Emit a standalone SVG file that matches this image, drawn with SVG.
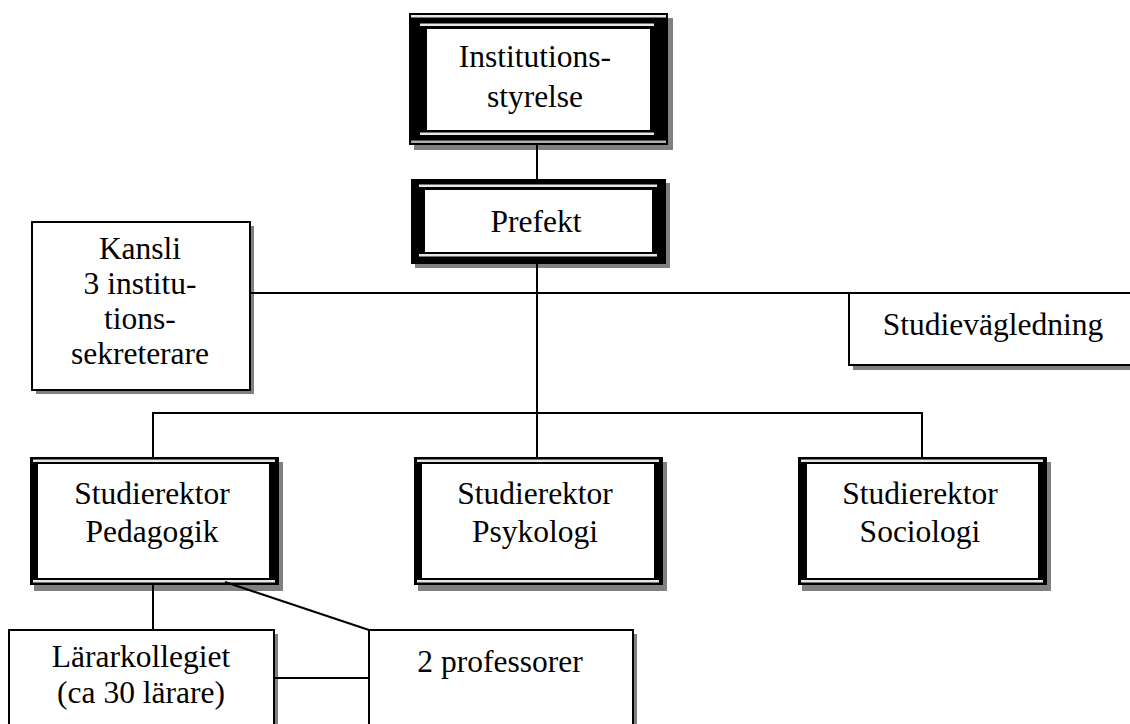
<svg xmlns="http://www.w3.org/2000/svg" width="1130" height="724" viewBox="0 0 1130 724">
<style>
.t{font-family:"Liberation Serif","Times New Roman",serif;font-size:31.5px;fill:#000;text-anchor:middle}
.blk{fill:#000}
.wht{fill:#fff}
.shd{fill:#808080}
.str{fill:#e6e6e6}
.thin{fill:#fff;stroke:#000;stroke-width:2}
.ln{stroke:#000;stroke-width:2;fill:none}
</style>
<rect width="1130" height="724" fill="#fff"/>
<g id="institutionsstyrelse">
<rect class="shd" x="414" y="18" width="259" height="132"/>
<rect class="blk" x="409" y="13" width="259" height="132"/>
<rect class="str" x="411" y="15" width="255" height="2.5"/>
<rect class="str" x="420" y="23.5" width="234" height="2.5"/>
<rect class="wht" x="427" y="29" width="223" height="101"/>
<rect class="str" x="420" y="132.5" width="234" height="2.5"/>
<rect fill="#b0b0b0" x="411" y="140.5" width="255" height="2.5"/>
<text class="t" x="535" y="67">Institutions-</text>
<text class="t" x="535" y="107">styrelse</text>
</g>
<g id="prefekt">
<rect class="shd" x="415" y="183" width="255" height="85"/>
<rect class="blk" x="411" y="179" width="255" height="85"/>
<rect class="str" x="419" y="184.5" width="238" height="2.5"/>
<rect class="wht" x="425" y="190" width="227" height="62"/>
<rect class="str" x="419" y="254" width="238" height="2.5"/>
<text class="t" x="536" y="232">Prefekt</text>
</g>
<g id="kansli">
<rect class="shd" x="36" y="226" width="218" height="168"/>
<rect class="thin" x="32" y="222" width="218" height="168"/>
<text class="t" x="140" y="259">Kansli</text>
<text class="t" x="140" y="294">3 institu-</text>
<text class="t" x="140" y="329">tions-</text>
<text class="t" x="140" y="364">sekreterare</text>
</g>
<g id="studievagledning">
<rect class="shd" x="853" y="297" width="290" height="73"/>
<rect class="thin" x="849" y="293" width="290" height="72"/>
<text class="t" x="993" y="335">Studievägledning</text>
</g>
<g id="studierektor-pedagogik">
<rect class="shd" x="34" y="462" width="249" height="129"/>
<rect class="blk" x="30" y="457" width="249" height="128"/>
<rect class="str" x="33" y="459.5" width="242" height="2.5"/>
<rect class="wht" x="38" y="464" width="231" height="114"/>
<rect class="str" x="33" y="580" width="242" height="2.5"/>
<text class="t" x="152" y="504">Studierektor</text>
<text class="t" x="152" y="542">Pedagogik</text>
</g>
<g id="studierektor-psykologi">
<rect class="shd" x="418" y="462" width="249" height="129"/>
<rect class="blk" x="414" y="457" width="249" height="128"/>
<rect class="str" x="417" y="459.5" width="242" height="2.5"/>
<rect class="wht" x="422" y="464" width="232" height="114"/>
<rect class="str" x="417" y="580" width="242" height="2.5"/>
<text class="t" x="535" y="504">Studierektor</text>
<text class="t" x="535" y="542">Psykologi</text>
</g>
<g id="studierektor-sociologi">
<rect class="shd" x="802" y="462" width="249" height="129"/>
<rect class="blk" x="798" y="457" width="249" height="128"/>
<rect class="str" x="801" y="459.5" width="242" height="2.5"/>
<rect class="wht" x="807" y="464" width="231" height="114"/>
<rect class="str" x="801" y="580" width="242" height="2.5"/>
<text class="t" x="920" y="504">Studierektor</text>
<text class="t" x="920" y="542">Sociologi</text>
</g>
<g id="lararkollegiet">
<rect class="shd" x="13" y="634" width="265" height="100"/>
<rect class="thin" x="9" y="630" width="265" height="100"/>
<text class="t" x="141" y="667">Lärarkollegiet</text>
<text class="t" x="141" y="703">(ca 30 lärare)</text>
</g>
<g id="professorer">
<rect class="shd" x="373" y="634" width="264" height="100"/>
<rect class="thin" x="369" y="630" width="264" height="100"/>
<text class="t" x="500" y="672">2 professorer</text>
</g>
<g id="connectors">
<line class="ln" x1="537" y1="145" x2="537" y2="179"/>
<line class="ln" x1="537" y1="264" x2="537" y2="413"/>
<line class="ln" x1="250" y1="293" x2="1130" y2="293"/>
<line class="ln" x1="153" y1="413" x2="922" y2="413"/>
<line class="ln" x1="153" y1="412" x2="153" y2="457"/>
<line class="ln" x1="537" y1="413" x2="537" y2="457"/>
<line class="ln" x1="922" y1="412" x2="922" y2="457"/>
<line class="ln" x1="153" y1="585" x2="153" y2="630"/>
<line class="ln" x1="225" y1="582" x2="369" y2="630"/>
<line class="ln" x1="275" y1="678" x2="369" y2="678"/>
</g>
</svg>
